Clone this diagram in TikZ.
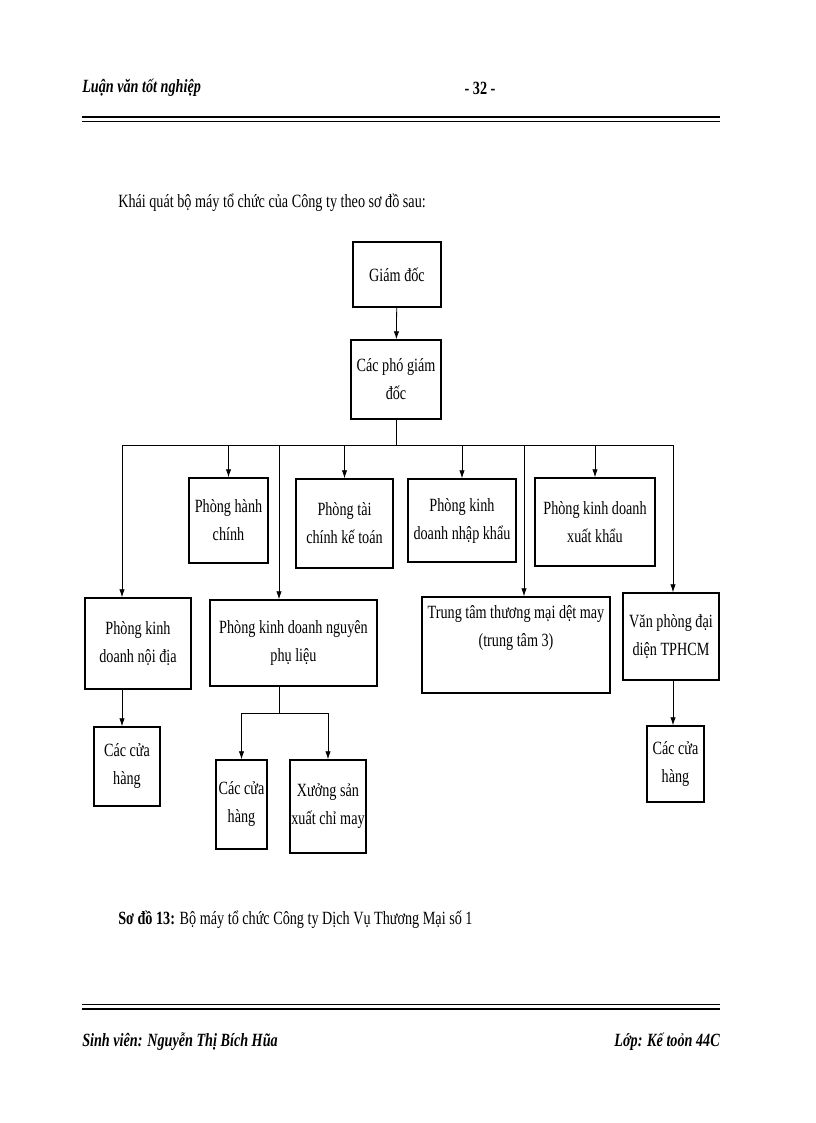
\documentclass[tikz,border=0pt]{standalone}
\usepackage{fontspec}
\setmainfont{Liberation Serif}[FakeStretch=0.76]
\usetikzlibrary{arrows.meta}
\begin{document}
\begin{tikzpicture}[x=0.75pt,y=-0.75pt,
  box/.style 2 args={draw,line width=1pt,minimum width=#1*0.75pt,minimum height=#2*0.75pt,align=center,inner sep=1pt,font=\fontsize{14}{21}\selectfont},
  arr/.style={line width=0.6pt,-{Latex[length=6pt,width=4pt]}},
  ln/.style={line width=0.6pt},
  txt/.style={inner sep=0pt,font=\fontsize{14}{16}\selectfont}]
\useasboundingbox (0,0) rectangle (816,1123);
% header
\node[txt,anchor=west,font=\fontsize{14}{16}\selectfont\bfseries\itshape] (h1) at (82,88) {Luận văn tốt nghiệp};
\node[txt,font=\fontsize{14}{16}\selectfont\bfseries] (h2) at (480,88) {- 32 -};
\draw[line width=2pt] (82,117) -- (720,117);
\draw[line width=0.7pt] (82,121.5) -- (720,121.5);
\draw[line width=0.7pt] (82,1004.5) -- (720,1004.5);
\draw[line width=2pt] (82,1009) -- (720,1009);
\node[txt,anchor=west,font=\fontsize{14}{16}\selectfont\bfseries\itshape] (f1) at (82,1042) {Sinh viên: Nguyễn Thị Bích Hũa};
\node[txt,anchor=east,font=\fontsize{14}{16}\selectfont\bfseries\itshape] (f2) at (720,1042) {Lớp: Kế toỏn 44C};
\node[txt,anchor=west] (intro) at (118,203) {Khái quát bộ máy tổ chức của Công ty theo sơ đồ sau:};
\node[txt,anchor=west] (cap) at (118,920) {\textbf{Sơ đồ 13:} Bộ máy tổ chức Công ty Dịch Vụ Thương Mại số 1};
% boxes
\node[box={88}{65}] (gd) at (397,274.5) {Giám đốc};
\node[box={90}{79}] (pgd) at (396,379.5) {Các phó giám\\đốc};
\node[box={79}{85}] (hc) at (228.5,520.5) {Phòng hành\\chính};
\node[box={97}{89}] (tc) at (344.5,523.5) {Phòng tài\\chính kế toán};
\node[box={108}{83}] (nk) at (462,520.5) {Phòng kinh\\doanh nhập khẩu};
\node[box={120}{88}] (xk) at (595,522) {Phòng kinh  doanh\\xuất khẩu};
\node[box={106}{91}] (nd) at (138,643.5) {Phòng kinh\\doanh nội địa};
\node[box={167}{86}] (npl) at (293.5,643) {Phòng kinh  doanh nguyên\\phụ liệu};
\node[box={188}{96},text depth=28pt] (tt) at (516,645) {Trung tâm thương mại dệt may\\(trung tâm 3)};
\node[box={96}{87}] (vp) at (671,636.5) {Văn phòng đại\\diện TPHCM};
\node[box={66}{79}] (ch1) at (127,766.5) {Các cửa\\hàng};
\node[box={51}{89}] (ch2) at (241.5,804.5) {Các cửa\\hàng};
\node[box={72}{93}] (xs) at (328,806.5) {Xưởng sản\\xuất chỉ may};
\node[box={57}{76}] (ch3) at (675.5,764) {Các cửa\\hàng};
% connectors
\coordinate (busL) at (122,445);
\coordinate (busR) at (673,445);
\coordinate (bus2) at (279,713);
\draw[arr] (gd) -- (pgd);
\draw[ln] (pgd.south) -- (pgd.south |- busL);
\draw[ln] (busL) -- (busR);
\draw[arr] (busL) -- (busL |- nd.north);
\draw[arr] (hc.north |- busL) -- (hc.north);
\draw[arr] (tc.north |- busL) -- (tc.north);
\draw[arr] (nk.north |- busL) -- (nk.north);
\draw[arr] (xk.north |- busL) -- (xk.north);
\draw[arr] (bus2 |- busL) -- (bus2 |- npl.north);
\draw[arr] ([xshift=6pt]tt.north |- busL) -- ([xshift=6pt]tt.north);
\draw[arr] (busR) -- (busR |- vp.north);
\draw[arr] (nd.south -| busL) -- (busL |- ch1.north);
\draw[ln] (bus2 |- npl.south) -- (bus2);
\draw[ln] (ch2.north |- bus2) -- (xs.north |- bus2);
\draw[arr] (ch2.north |- bus2) -- (ch2.north);
\draw[arr] (xs.north |- bus2) -- (xs.north);
\draw[arr] (busR |- vp.south) -- (busR |- ch3.north);
\end{tikzpicture}
\end{document}
